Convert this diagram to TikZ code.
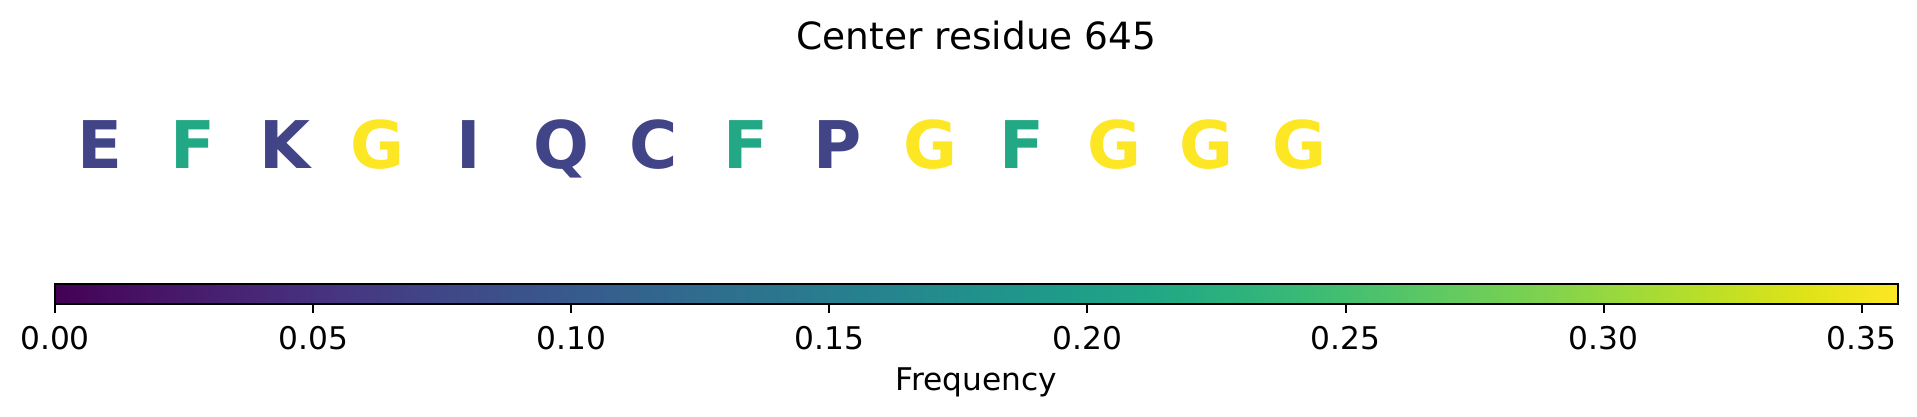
\documentclass[tikz,border=0pt]{standalone}
\usepackage{fontspec}
\setmainfont{DejaVu Sans}
\definecolor{vir20}{HTML}{414487}
\definecolor{vir60}{HTML}{22A884}
\definecolor{vir100}{HTML}{FDE725}
% viridis stops, 0.05 apart
\definecolor{v00}{HTML}{440154}
\definecolor{v01}{HTML}{471365}
\definecolor{v02}{HTML}{482475}
\definecolor{v03}{HTML}{463480}
\definecolor{v04}{HTML}{414487}
\definecolor{v05}{HTML}{3B528B}
\definecolor{v06}{HTML}{355F8D}
\definecolor{v07}{HTML}{2F6C8E}
\definecolor{v08}{HTML}{2A788E}
\definecolor{v09}{HTML}{25848E}
\definecolor{v10}{HTML}{21918C}
\definecolor{v11}{HTML}{1E9C89}
\definecolor{v12}{HTML}{22A884}
\definecolor{v13}{HTML}{2FB47C}
\definecolor{v14}{HTML}{44BF70}
\definecolor{v15}{HTML}{5EC962}
\definecolor{v16}{HTML}{7AD151}
\definecolor{v17}{HTML}{9BD93C}
\definecolor{v18}{HTML}{BDDF26}
\definecolor{v19}{HTML}{DFE318}
\definecolor{v20}{HTML}{FDE725}
\pgfdeclarehorizontalshading{viridis}{100bp}{color(0bp)=(v00); color(25bp)=(v00);
  color(27.5bp)=(v01); color(30bp)=(v02); color(32.5bp)=(v03); color(35bp)=(v04);
  color(37.5bp)=(v05); color(40bp)=(v06); color(42.5bp)=(v07); color(45bp)=(v08);
  color(47.5bp)=(v09); color(50bp)=(v10); color(52.5bp)=(v11); color(55bp)=(v12);
  color(57.5bp)=(v13); color(60bp)=(v14); color(62.5bp)=(v15); color(65bp)=(v16);
  color(67.5bp)=(v17); color(70bp)=(v18); color(72.5bp)=(v19); color(75bp)=(v20);
  color(100bp)=(v20)}

\begin{document}
\begin{tikzpicture}[x=0.4pt,y=-0.4pt,
    res_node/.style={anchor=base,inner sep=0pt,font=\fontsize{26.3}{30}\selectfont\bfseries},
    tick_label/.style={anchor=base,inner sep=0pt,font=\fontsize{12.5}{15}\selectfont},
    tick_line/.style={line width=0.8pt},
    bar_box/.style={draw,line width=0.8pt,shading=viridis,inner sep=0pt,
      minimum width=737.2pt,minimum height=8pt}]

    \useasboundingbox (0,0) rectangle (1917,416);

    \node[anchor=base,font=\fontsize{15}{18}\selectfont] (title) at (976.5,49.5) {Center residue 645};

    \foreach \l/\c [count=\i from 0] in {E/vir20,F/vir60,K/vir20,G/vir100,I/vir20,Q/vir20,C/vir20,
        F/vir60,P/vir20,G/vir100,F/vir60,G/vir100,G/vir100,G/vir100}
      \node[res_node,text=\c] (r\i) at ({100.4+92.2*\i},168) {\l};

    \node[bar_box] (cbar) at (976.5,294.3) {};

    \foreach \t [count=\k from 0] in {0.00,0.05,0.10,0.15,0.20,0.25,0.30,0.35} {
      \draw[tick_line] ({55+258.1*\k},304.3) -- ++(0,8.75);
      \node[tick_label] (t\k) at ({55+258.1*\k},349) {\t};
    }

    \node[tick_label] (freq) at (976.5,390.7) {Frequency};

\end{tikzpicture}
\end{document}
